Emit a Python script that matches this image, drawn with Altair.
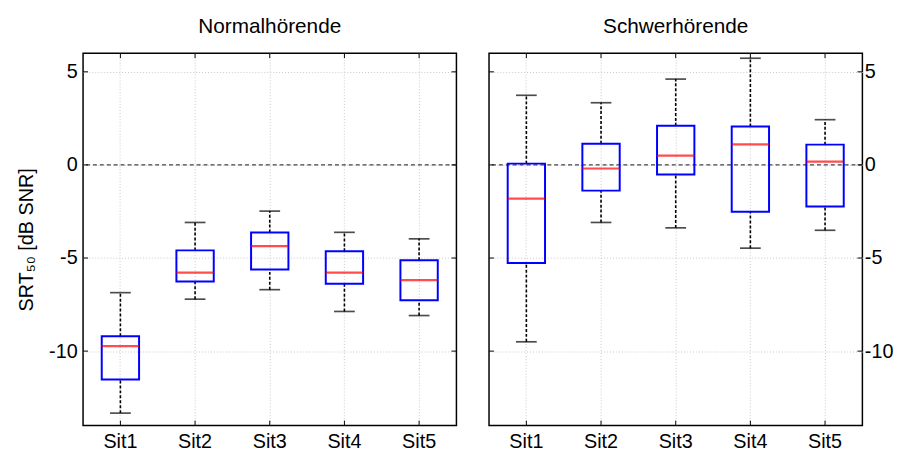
import altair as alt
import pandas as pd

categories = ["Sit1", "Sit2", "Sit3", "Sit4", "Sit5"]
groups = ["Normalhörende", "Schwerhörende"]

nh_low = [-13.33, -7.21, -6.70, -7.87, -8.09]
nh_q1 = [-11.52, -6.26, -5.62, -6.38, -7.27]
nh_med = [-9.73, -5.78, -4.36, -5.78, -6.19]
nh_q3 = [-9.20, -4.59, -3.63, -4.64, -5.12]
nh_high = [-6.86, -3.09, -2.48, -3.62, -3.97]

sh_low = [-9.50, -3.09, -3.38, -4.47, -3.51]
sh_q1 = [-5.27, -1.38, -0.51, -2.52, -2.23]
sh_med = [-1.81, -0.19, 0.50, 1.10, 0.18]
sh_q3 = [0.07, 1.14, 2.10, 2.06, 1.09]
sh_high = [3.74, 3.34, 4.61, 5.73, 2.43]

y_ticks = [5, 0, -5, -10]
y_domain = [-14, 6]

W = 378
H = 377
FONT = "Liberation Sans"


def panel(title, low, q1, med, q3, high, left):
    df = pd.DataFrame({"cat": categories, "low": low, "q1": q1, "med": med,
                       "q3": q3, "high": high})
    ticks_df = pd.DataFrame({"v": y_ticks})

    xaxis = alt.Axis(orient="bottom", domain=False, ticks=False, labelAngle=0,
                     labelFontSize=20, labelPadding=6, grid=True, gridDash=[1, 2],
                     gridColor="#c8c8c8", gridWidth=1, bandPosition=0.5, title=None)
    xs = alt.Scale(domain=categories, paddingInner=0, paddingOuter=0)

    def X():
        return alt.X("cat:N", scale=xs, axis=xaxis, title=None)

    ytitle = "SRT₅₀ [dB SNR]" if left else None
    yaxis = alt.Axis(orient="left" if left else "right", domain=False, ticks=False,
                     values=y_ticks, labelFontSize=20,
                     labelPadding=6 if left else 2,
                     labelExpr="datum.value < 0 ? '-' + abs(datum.value) : '' + datum.value",
                     grid=True, gridDash=[1, 2], gridColor="#c8c8c8", gridWidth=1,
                     titleFontSize=20, titleFontWeight="normal", titlePadding=12,
                     title=ytitle)
    ys = alt.Scale(domain=y_domain, nice=False, zero=False)

    def Y(field):
        return alt.Y(field, type="quantitative", scale=ys, axis=yaxis, title=ytitle)

    base = alt.Chart(df)
    zero = alt.Chart(pd.DataFrame({"z": [0]})).mark_rule(
        color="#444444", strokeDash=[4, 3], strokeWidth=1.2).encode(y=Y("z"))
    wl = base.mark_rule(color="black", strokeDash=[3, 2], strokeWidth=1.6).encode(
        x=X(), y=Y("low"), y2="q1")
    wh = base.mark_rule(color="black", strokeDash=[3, 2], strokeWidth=1.6).encode(
        x=X(), y=Y("q3"), y2="high")
    box = base.mark_bar(width=alt.RelativeBandSize(0.5), fill="white", fillOpacity=0,
                        stroke="#0000ff", strokeWidth=2).encode(
        x=X(), y=Y("q1"), y2="q3")
    medl = base.mark_tick(color="#ff0000", size=37.8, thickness=2.2).encode(
        x=X(), y=Y("med"))
    capl = base.mark_tick(color="black", size=21, thickness=1.7).encode(
        x=X(), y=Y("low"))
    caph = base.mark_tick(color="black", size=21, thickness=1.7).encode(
        x=X(), y=Y("high"))
    tk = alt.Chart(ticks_df)
    ytl = tk.mark_rule(color="black", strokeWidth=1).encode(
        y=Y("v"), x=alt.value(0), x2=alt.value(5))
    ytr = tk.mark_rule(color="black", strokeWidth=1).encode(
        y=Y("v"), x=alt.value(W - 5), x2=alt.value(W))
    xtb = base.mark_rule(color="black", strokeWidth=1).encode(
        x=X(), y=alt.value(H - 5), y2=alt.value(H))
    xtt = base.mark_rule(color="black", strokeWidth=1).encode(
        x=X(), y=alt.value(0), y2=alt.value(5))

    return alt.layer(zero, wl, wh, box, medl, capl, caph, ytl, ytr, xtb, xtt).properties(
        width=W, height=H,
        title=alt.TitleParams(title, fontSize=21, font=FONT, fontWeight="normal",
                              color="black", offset=16, anchor="middle"))


left = panel(groups[0], nh_low, nh_q1, nh_med, nh_q3, nh_high, True)
right = panel(groups[1], sh_low, sh_q1, sh_med, sh_q3, sh_high, False)

chart = alt.hconcat(left, right, spacing=29).properties(
    padding={"left": 8, "top": 4, "right": 0, "bottom": 0}
).configure_view(stroke="black", strokeWidth=1.5).configure_axis(
    labelFont=FONT, titleFont=FONT, labelColor="black", titleColor="black"
).configure_title(font=FONT)

chart.save("out.html", embed_options={"renderer": "svg", "actions": False})
